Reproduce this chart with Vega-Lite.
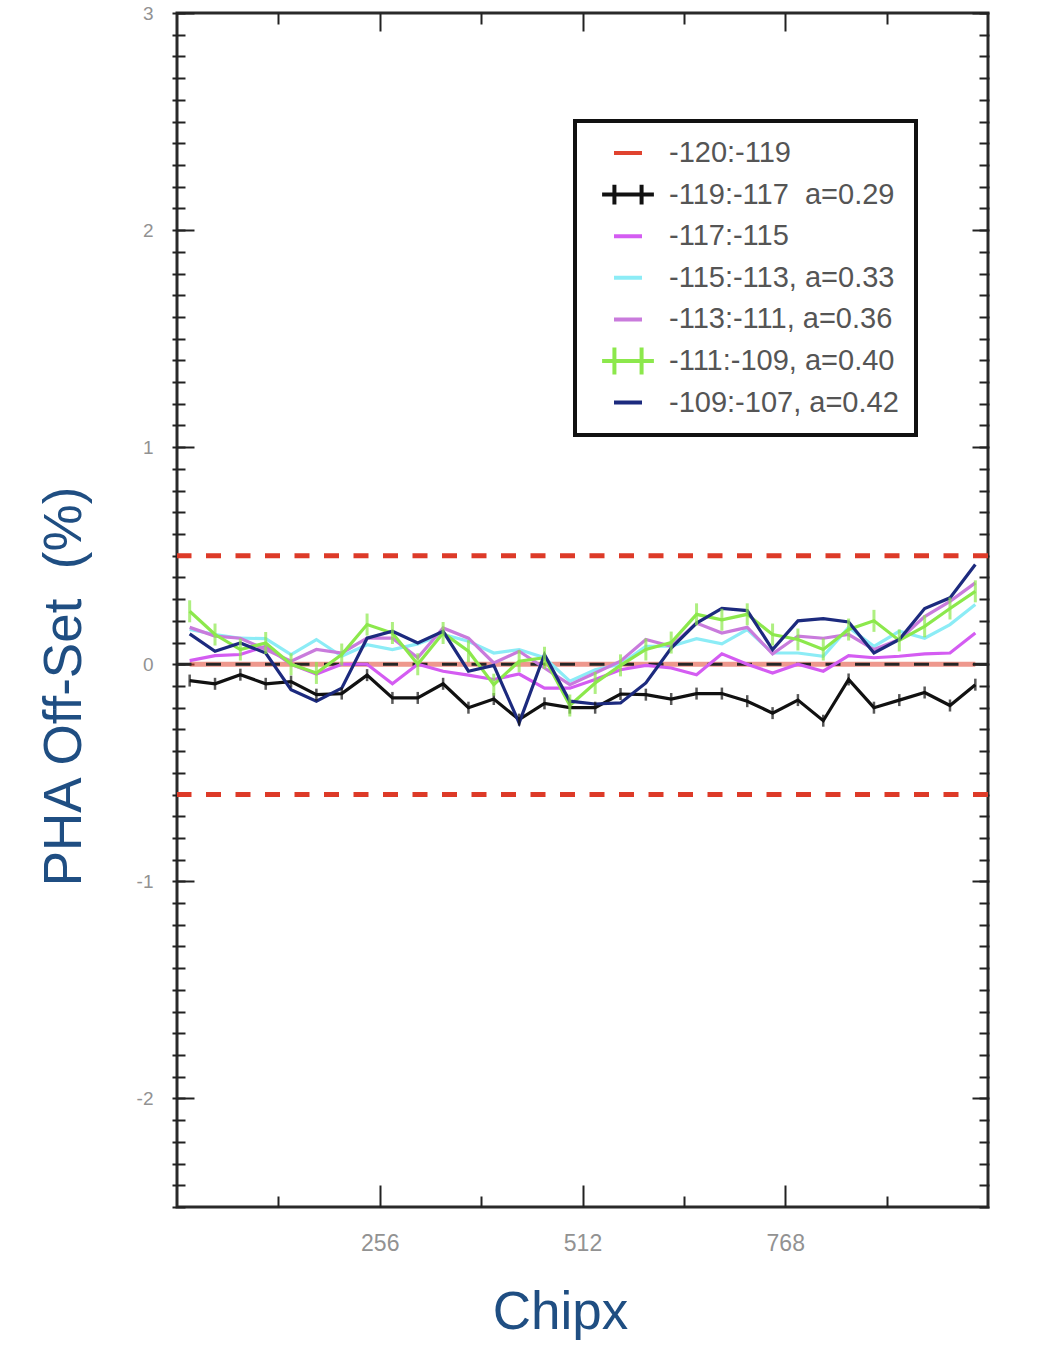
{
  "$schema": "https://vega.github.io/schema/vega-lite/v6.json",
  "width": 811,
  "height": 1194,
  "autosize": {"type": "none"},
  "padding": {"left": 177, "top": 13, "right": 60, "bottom": 155},
  "background": "white",
  "config": {
    "view": {"stroke": "#2a2a2a", "strokeWidth": 3},
    "axis": {
      "grid": false,
      "domain": false,
      "tickColor": "#222222",
      "tickWidth": 2,
      "labelFont": "Liberation Sans",
      "labelFontSize": 20,
      "labelColor": "#929292",
      "labelFlush": false,
      "titleFont": "Liberation Sans",
      "titleFontSize": 53,
      "titleFontWeight": "normal",
      "titleColor": "#1f4e82"
    },
    "legend": {
      "orient": "none",
      "legendX": 398,
      "legendY": 108,
      "strokeColor": "#111111",
      "strokeWidth": 4,
      "fillColor": "white",
      "padding": 17,
      "labelFont": "Liberation Sans",
      "labelFontSize": 29,
      "labelColor": "#555555",
      "labelLimit": 0,
      "symbolSize": 784,
      "symbolStrokeWidth": 4,
      "symbolOffset": 20,
      "labelOffset": 25,
      "clipHeight": 30,
      "rowPadding": 11.6,
      "symbolOpacity": 1
    }
  },
  "datasets": {
    "pha": [
      {"x": 16, "r": 0, "k": -0.075, "m": 0.017, "c": 0.16, "o": 0.17, "g": 0.244, "n": 0.14},
      {"x": 48, "r": 0, "k": -0.09, "m": 0.04, "c": 0.137, "o": 0.13, "g": 0.137, "n": 0.06},
      {"x": 80, "r": 0, "k": -0.048, "m": 0.045, "c": 0.12, "o": 0.12, "g": 0.068, "n": 0.098},
      {"x": 112, "r": 0, "k": -0.09, "m": 0.083, "c": 0.118, "o": 0.068, "g": 0.098, "n": 0.052},
      {"x": 144, "r": 0, "k": -0.08, "m": 0.0, "c": 0.045, "o": 0.014, "g": 0.0, "n": -0.117},
      {"x": 176, "r": 0, "k": -0.14, "m": -0.045, "c": 0.114, "o": 0.068, "g": -0.04, "n": -0.17},
      {"x": 208, "r": 0, "k": -0.135, "m": 0.0, "c": 0.037, "o": 0.052, "g": 0.045, "n": -0.11},
      {"x": 240, "r": 0, "k": -0.05, "m": 0.0, "c": 0.09, "o": 0.12, "g": 0.183, "n": 0.12},
      {"x": 272, "r": 0, "k": -0.155, "m": -0.09, "c": 0.068, "o": 0.12, "g": 0.144, "n": 0.152},
      {"x": 304, "r": 0, "k": -0.155, "m": 0.0, "c": 0.094, "o": 0.03, "g": 0.0, "n": 0.098},
      {"x": 336, "r": 0, "k": -0.09, "m": -0.032, "c": 0.137, "o": 0.167, "g": 0.144, "n": 0.152},
      {"x": 368, "r": 0, "k": -0.2, "m": -0.05, "c": 0.106, "o": 0.12, "g": 0.06, "n": -0.032},
      {"x": 400, "r": 0, "k": -0.16, "m": -0.07, "c": 0.052, "o": 0.006, "g": -0.094, "n": -0.005},
      {"x": 432, "r": 0, "k": -0.255, "m": -0.045, "c": 0.068, "o": 0.06, "g": 0.014, "n": -0.27},
      {"x": 464, "r": 0, "k": -0.18, "m": -0.11, "c": 0.03, "o": -0.017, "g": 0.03, "n": 0.045},
      {"x": 496, "r": 0, "k": -0.2, "m": -0.11, "c": -0.078, "o": -0.094, "g": -0.19, "n": -0.17},
      {"x": 528, "r": 0, "k": -0.2, "m": -0.07, "c": -0.025, "o": -0.04, "g": -0.086, "n": -0.183},
      {"x": 560, "r": 0, "k": -0.137, "m": -0.025, "c": 0.0, "o": 0.014, "g": -0.005, "n": -0.178},
      {"x": 592, "r": 0, "k": -0.14, "m": -0.005, "c": 0.083, "o": 0.114, "g": 0.068, "n": -0.086},
      {"x": 624, "r": 0, "k": -0.16, "m": -0.017, "c": 0.083, "o": 0.083, "g": 0.1, "n": 0.075},
      {"x": 656, "r": 0, "k": -0.135, "m": -0.048, "c": 0.118, "o": 0.19, "g": 0.23, "n": 0.19},
      {"x": 688, "r": 0, "k": -0.135, "m": 0.048, "c": 0.094, "o": 0.144, "g": 0.205, "n": 0.257},
      {"x": 720, "r": 0, "k": -0.17, "m": 0.0, "c": 0.16, "o": 0.17, "g": 0.23, "n": 0.247},
      {"x": 752, "r": 0, "k": -0.225, "m": -0.04, "c": 0.052, "o": 0.048, "g": 0.137, "n": 0.068},
      {"x": 784, "r": 0, "k": -0.165, "m": 0.0, "c": 0.052, "o": 0.13, "g": 0.114, "n": 0.2},
      {"x": 816, "r": 0, "k": -0.26, "m": -0.032, "c": 0.037, "o": 0.12, "g": 0.068, "n": 0.21},
      {"x": 848, "r": 0, "k": -0.07, "m": 0.04, "c": 0.17, "o": 0.137, "g": 0.16, "n": 0.195},
      {"x": 880, "r": 0, "k": -0.2, "m": 0.03, "c": 0.083, "o": 0.068, "g": 0.2, "n": 0.052},
      {"x": 912, "r": 0, "k": -0.165, "m": 0.037, "c": 0.152, "o": 0.114, "g": 0.11, "n": 0.114},
      {"x": 944, "r": 0, "k": -0.13, "m": 0.048, "c": 0.12, "o": 0.22, "g": 0.175, "n": 0.257},
      {"x": 976, "r": 0, "k": -0.19, "m": 0.052, "c": 0.183, "o": 0.29, "g": 0.257, "n": 0.306},
      {"x": 1008, "r": 0, "k": -0.094, "m": 0.144, "c": 0.275, "o": 0.375, "g": 0.336, "n": 0.46}
    ],
    "limits": [{"y": 0.5}, {"y": -0.6}],
    "zero": [{"y": 0}]
  },
  "resolve": {"axis": {"x": "independent", "y": "independent"}},
  "layer": [
    {
      "data": {"name": "limits"},
      "mark": {"type": "rule", "color": "#dd3a28", "strokeWidth": 5, "strokeDash": [15, 14.5]},
      "encoding": {
        "y": {
          "field": "y", "type": "quantitative",
          "scale": {"domain": [-2.5, 3], "nice": false, "zero": false},
          "axis": {
            "orient": "left", "values": [-2, -1, 0, 1, 2, 3], "tickSize": -17,
            "labelExpr": "'' + datum.value", "labelPadding": 41, "labelFontSize": 19,
            "title": "PHA Off-Set \u00a0(%)", "titleX": -97, "titleY": 673, "titleAngle": 270,
            "titleAlign": "center", "titleBaseline": "alphabetic"
          }
        }
      }
    },
    {
      "data": {"name": "pha"},
      "transform": [{"fold": ["r"], "as": ["s", "v"]}],
      "mark": {"type": "line", "strokeWidth": 5, "opacity": 0.55},
      "encoding": {
        "x": {
          "field": "x", "type": "quantitative",
          "scale": {"domain": [0, 1024], "nice": false, "zero": false},
          "axis": {
            "orient": "bottom", "values": [256, 512, 768], "tickSize": -22, "labelPadding": 47, "labelFontSize": 23,
            "title": "Chipx", "titleX": 383, "titleY": 121, "titleAlign": "center", "titleBaseline": "alphabetic"
          }
        },
        "y": {
          "field": "v", "type": "quantitative",
          "scale": {"domain": [-2.5, 3], "nice": false, "zero": false},
          "axis": {
            "orient": "left", "offset": -8, "tickSize": 13, "labels": false, "title": null,
            "values": [-2.5,-2.4,-2.3,-2.2,-2.1,-2,-1.9,-1.8,-1.7,-1.6,-1.5,-1.4,-1.3,-1.2,-1.1,-1,-0.9,-0.8,-0.7,-0.6,-0.5,-0.4,-0.3,-0.2,-0.1,0,0.1,0.2,0.3,0.4,0.5,0.6,0.7,0.8,0.9,1,1.1,1.2,1.3,1.4,1.5,1.6,1.7,1.8,1.9,2,2.1,2.2,2.3,2.4,2.5,2.6,2.7,2.8,2.9,3]
          }
        },
        "color": {
          "field": "s", "type": "nominal",
          "scale": {"domain": ["r", "k", "m", "c", "o", "g", "n"], "range": ["#e0432f", "#111111", "#d45cf2", "#8cecf6", "#c97bdc", "#8ce84c", "#1c2a7e"]},
          "legend": {"title": null, "labelExpr": "datum.label == 'r' ? '-120:-119' : datum.label == 'k' ? '-119:-117 \u00a0a=0.29' : datum.label == 'm' ? '-117:-115' : datum.label == 'c' ? '-115:-113, a=0.33' : datum.label == 'o' ? '-113:-111, a=0.36' : datum.label == 'g' ? '-111:-109, a=0.40' : '-109:-107, a=0.42'"}
        }
      }
    },
    {
      "data": {"name": "zero"},
      "mark": {"type": "rule", "color": "#262626", "strokeWidth": 3, "strokeDash": [15, 14.5]},
      "encoding": {
        "y": {
          "field": "y", "type": "quantitative",
          "scale": {"domain": [-2.5, 3], "nice": false, "zero": false},
          "axis": {"orient": "right", "values": [-2, -1, 0, 1, 2, 3], "tickSize": -16, "labels": false, "title": null}
        }
      }
    },
    {
      "data": {"name": "pha"},
      "transform": [{"fold": ["m", "c", "o", "k", "g", "n"], "as": ["s", "v"]}],
      "mark": {"type": "line", "strokeWidth": 3.2},
      "encoding": {
        "x": {
          "field": "x", "type": "quantitative",
          "scale": {"domain": [0, 1024], "nice": false, "zero": false},
          "axis": {"orient": "bottom", "values": [128, 384, 640, 896], "tickSize": -11, "labels": false, "title": null}
        },
        "y": {
          "field": "v", "type": "quantitative",
          "scale": {"domain": [-2.5, 3], "nice": false, "zero": false},
          "axis": {
            "orient": "right", "offset": -9, "tickSize": 10, "labels": false, "title": null,
            "values": [-2.5,-2.4,-2.3,-2.2,-2.1,-2,-1.9,-1.8,-1.7,-1.6,-1.5,-1.4,-1.3,-1.2,-1.1,-1,-0.9,-0.8,-0.7,-0.6,-0.5,-0.4,-0.3,-0.2,-0.1,0,0.1,0.2,0.3,0.4,0.5,0.6,0.7,0.8,0.9,1,1.1,1.2,1.3,1.4,1.5,1.6,1.7,1.8,1.9,2,2.1,2.2,2.3,2.4,2.5,2.6,2.7,2.8,2.9,3]
          }
        },
        "color": {
          "field": "s", "type": "nominal",
          "scale": {"domain": ["r", "k", "m", "c", "o", "g", "n"], "range": ["#e0432f", "#111111", "#d45cf2", "#8cecf6", "#c97bdc", "#8ce84c", "#1c2a7e"]},
          "legend": {"title": null, "labelExpr": "datum.label == 'r' ? '-120:-119' : datum.label == 'k' ? '-119:-117 \u00a0a=0.29' : datum.label == 'm' ? '-117:-115' : datum.label == 'c' ? '-115:-113, a=0.33' : datum.label == 'o' ? '-113:-111, a=0.36' : datum.label == 'g' ? '-111:-109, a=0.40' : '-109:-107, a=0.42'"}
        }
      }
    },
    {
      "data": {"name": "pha"},
      "mark": {"type": "tick", "orient": "vertical", "color": "#111111", "thickness": 2.5, "size": 12},
      "encoding": {
        "x": {
          "field": "x", "type": "quantitative",
          "scale": {"domain": [0, 1024], "nice": false, "zero": false},
          "axis": {"orient": "top", "values": [256, 512, 768], "tickSize": -18, "labels": false, "title": null}
        },
        "y": {"field": "k", "type": "quantitative", "scale": {"domain": [-2.5, 3], "nice": false, "zero": false}, "axis": null}
      }
    },
    {
      "data": {"name": "pha"},
      "mark": {"type": "tick", "orient": "vertical", "color": "#8ce84c", "thickness": 3, "size": 22},
      "encoding": {
        "x": {
          "field": "x", "type": "quantitative",
          "scale": {"domain": [0, 1024], "nice": false, "zero": false},
          "axis": {"orient": "top", "values": [128, 384, 640, 896], "tickSize": -11, "labels": false, "title": null}
        },
        "y": {"field": "g", "type": "quantitative", "scale": {"domain": [-2.5, 3], "nice": false, "zero": false}, "axis": null}
      }
    },
    {
      "data": {"name": "pha"},
      "transform": [{"fold": ["r", "k", "m", "c", "o", "g", "n"], "as": ["s", "v"]}],
      "mark": {"type": "point", "opacity": 0, "filled": false},
      "encoding": {
        "x": {"field": "x", "type": "quantitative", "scale": {"domain": [0, 1024], "nice": false, "zero": false}, "axis": null},
        "y": {"field": "v", "type": "quantitative", "scale": {"domain": [-2.5, 3], "nice": false, "zero": false}, "axis": null},
        "color": {
          "field": "s", "type": "nominal",
          "scale": {"domain": ["r", "k", "m", "c", "o", "g", "n"], "range": ["#e0432f", "#111111", "#d45cf2", "#8cecf6", "#c97bdc", "#8ce84c", "#1c2a7e"]},
          "legend": {"title": null, "labelExpr": "datum.label == 'r' ? '-120:-119' : datum.label == 'k' ? '-119:-117 \u00a0a=0.29' : datum.label == 'm' ? '-117:-115' : datum.label == 'c' ? '-115:-113, a=0.33' : datum.label == 'o' ? '-113:-111, a=0.36' : datum.label == 'g' ? '-111:-109, a=0.40' : '-109:-107, a=0.42'"}
        },
        "shape": {
          "field": "s", "type": "nominal",
          "scale": {
            "domain": ["r", "k", "m", "c", "o", "g", "n"],
            "range": [
              "M-1,0H1",
              "M-1.85,0H1.85M-0.97,-0.7V0.7M0.97,-0.7V0.7",
              "M-1,0H1",
              "M-1,0H1",
              "M-1,0H1",
              "M-1.85,0H1.85M-0.97,-0.96V0.96M0.97,-0.96V0.96",
              "M-1,0H1"
            ]
          },
          "legend": {"title": null, "labelExpr": "datum.label == 'r' ? '-120:-119' : datum.label == 'k' ? '-119:-117 \u00a0a=0.29' : datum.label == 'm' ? '-117:-115' : datum.label == 'c' ? '-115:-113, a=0.33' : datum.label == 'o' ? '-113:-111, a=0.36' : datum.label == 'g' ? '-111:-109, a=0.40' : '-109:-107, a=0.42'"}
        }
      }
    }
  ]
}
